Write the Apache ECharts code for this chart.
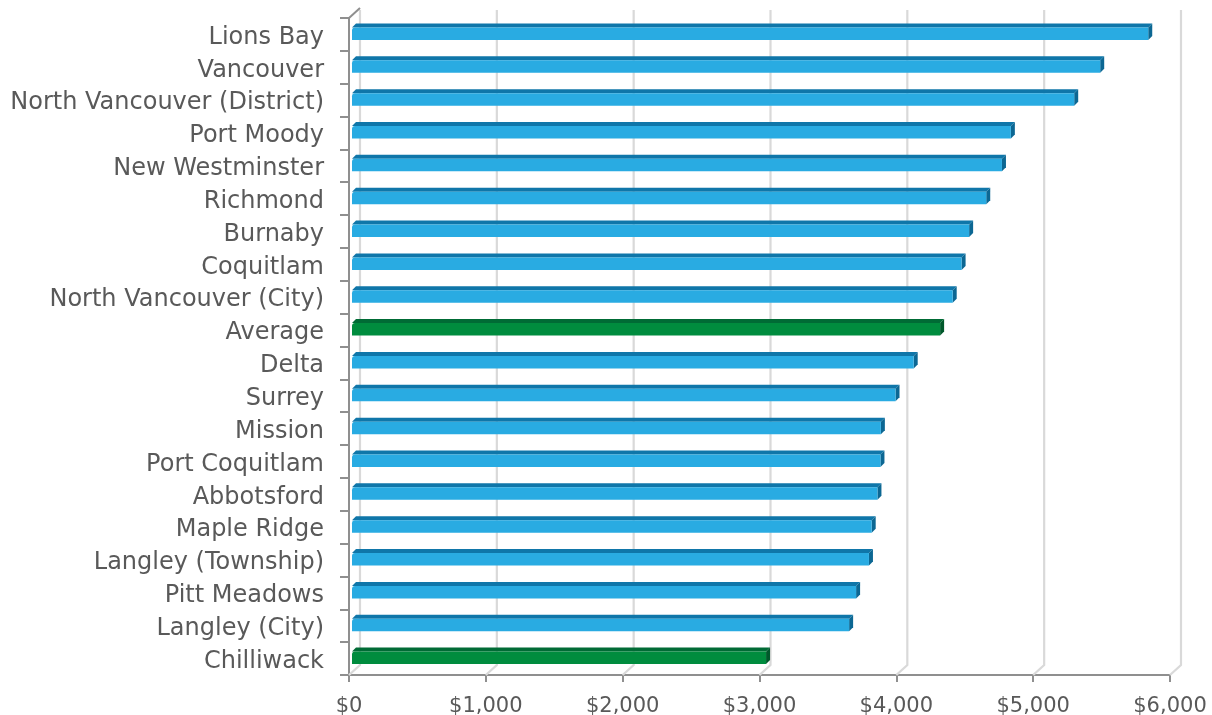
<!DOCTYPE html>
<html><head><meta charset="utf-8">
<style>html,body{margin:0;padding:0;background:#fff}#c{width:1212px;height:715px}</style>
<script src="https://cdn.jsdelivr.net/npm/echarts@6/dist/echarts.min.js"></script>
</head><body><div id="c"></div>
<script>
const categories = ["Lions Bay","Vancouver","North Vancouver (District)","Port Moody","New Westminster","Richmond","Burnaby","Coquitlam","North Vancouver (City)","Average","Delta","Surrey","Mission","Port Coquitlam","Abbotsford","Maple Ridge","Langley (Township)","Pitt Meadows","Langley (City)","Chilliwack"];
const values = [5819,5468,5278,4815,4750,4635,4510,4455,4390,4298,4105,3972,3865,3862,3840,3798,3778,3684,3633,3026];
const highlighted = ["Average","Chilliwack"];
const wallTicks = [0,1000,2000,3000,4000,5000,6000];

const FONT = '"DejaVu Sans"';
const chart = echarts.init(document.getElementById('c'), null, {renderer:'canvas'});

function renderWall(params, api){
  const p = api.coord([api.value(0), categories[categories.length-1]]);
  const cs = params.coordSys;
  const x = p[0], b = cs.y + cs.height, t = cs.y;
  const dx = 11, dy = 10;
  const children = [{
    type:'polyline',
    shape:{points:[[x,b],[x+dx,b-dy],[x+dx,t-dy+2]]},
    style:{fill:null,stroke:'#d9d9d9',lineWidth:2.2}
  }];
  if(api.value(0)===0){
    children.push({type:'line',shape:{x1:x,y1:t,x2:x+dx,y2:t-dy},style:{stroke:'#8f8f8f',lineWidth:2}});
  }
  return {type:'group',children};
}
function renderBar(params, api){
  const name = categories[api.value(1)];
  const end = api.coord([api.value(0), name]);
  const start = api.coord([0, name]);
  const green = highlighted.includes(name);
  const face = green ? '#008c3e' : '#29abe2';
  const dark = green ? '#006b35' : '#0f76a9';
  const side = green ? '#00582b' : '#0c6793';
  const x0 = start[0]+3, x1 = end[0]+3, cy = end[1];
  const top = cy-7, bot = cy+5.5, d = 4;
  return {type:'group',children:[
    {type:'polygon',shape:{points:[[x0,top],[x0+d,top-d],[x1+d,top-d],[x1,top]]},style:{fill:dark}},
    {type:'polygon',shape:{points:[[x1,top],[x1+d,top-d],[x1+d,bot-d],[x1,bot]]},style:{fill:side}},
    {type:'rect',shape:{x:x0,y:top,width:x1-x0,height:bot-top,r:[3,0,0,0]},style:{fill:face}}
  ]};
}
chart.setOption({
  animation:false,
  backgroundColor:'#fff',
  grid:{left:349,right:42,top:18,bottom:40,containLabel:false,outerBoundsMode:'none'},
  xAxis:{type:'value',min:0,max:6000,interval:1000,
    axisLine:{show:true,lineStyle:{color:'#8f8f8f',width:2}},
    axisTick:{show:true,length:7,lineStyle:{color:'#8f8f8f',width:2}},
    splitLine:{show:false},
    axisLabel:{color:'#595959',fontFamily:FONT,fontSize:21,margin:21,
      formatter:v=>'$'+v.toLocaleString('en-US')}},
  yAxis:{type:'category',data:categories,inverse:true,
    axisLine:{show:true,onZero:false,lineStyle:{color:'#8f8f8f',width:2}},
    axisTick:{show:true,length:9,alignWithLabel:false,lineStyle:{color:'#8f8f8f',width:2}},
    axisLabel:{color:'#595959',fontFamily:FONT,fontSize:24,margin:25,interval:0,
      formatter:v=>'{a|'+v+'}',
      rich:{a:{color:'#595959',fontFamily:FONT,fontSize:24,padding:[6,0,0,0]}}}},
  series:[
    {type:'custom',silent:true,z:1,data:wallTicks.map(v=>[v]),encode:{x:0},renderItem:renderWall,clip:false},
    {type:'custom',z:3,data:values.map((v,i)=>[v,i]),encode:{x:0,y:1},renderItem:renderBar,clip:false}
  ]
});
</script></body></html>
